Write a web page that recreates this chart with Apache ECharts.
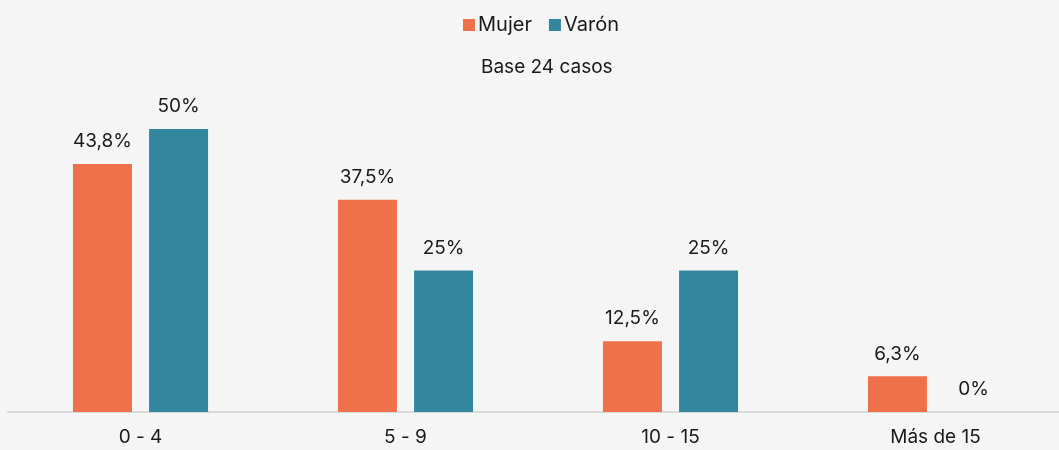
<!DOCTYPE html>
<html>
<head>
<meta charset="utf-8">
<script src="https://cdn.jsdelivr.net/npm/echarts@6/dist/echarts.min.js"></script>
<style>
  html, body { margin: 0; padding: 0; background: #f5f5f5; overflow: hidden; }
  #chart { width: 1076px; height: 450px; }
</style>
</head>
<body>
<div id="chart"></div>
<script>
var categories = ['0 - 4', '5 - 9', '10 - 15', 'Más de 15'];
var mujerValues = [43.8, 37.5, 12.5, 6.3];
var varonValues = [50, 25, 25, 0];

var myChart = echarts.init(document.getElementById('chart'));
var fontFam = 'Inter, "Open Sans", sans-serif';

function pctLabel(p) {
  return String(p.value).replace('.', ',') + '%';
}

var option = {
  backgroundColor: '#f5f5f5',
  textStyle: { fontFamily: fontFam },
  title: {
    text: 'Base 24 casos',
    left: 476,
    top: 53,
    textStyle: { fontSize: 19, fontWeight: 'normal', color: '#1a1a1a', fontFamily: fontFam }
  },
  legend: {
    top: 10,
    left: 458,
    icon: 'rect',
    itemWidth: 12,
    itemHeight: 12,
    itemGap: 17,
    textStyle: { fontSize: 20, color: '#1a1a1a', fontFamily: fontFam, padding: [0, 0, 0, -2] },
    data: ['Mujer', 'Varón']
  },
  grid: {
    left: 8,
    right: 8,
    top: 129,
    bottom: 38,
    containLabel: false
  },
  xAxis: {
    type: 'category',
    data: categories,
    axisLine: { lineStyle: { color: '#d9d9d9', width: 2 } },
    axisTick: { show: false },
    axisLabel: { fontSize: 19, color: '#1a1a1a', margin: 16, fontFamily: fontFam }
  },
  yAxis: {
    type: 'value',
    min: 0,
    max: 50,
    show: false,
    splitLine: { show: false }
  },
  series: [
    {
      name: 'Mujer',
      type: 'bar',
      data: mujerValues,
      barWidth: 59,
      barGap: '29%',
      itemStyle: { color: '#ef714a' },
      label: {
        show: true,
        position: 'top',
        distance: 13,
        fontSize: 19,
        color: '#1a1a1a',
        fontFamily: fontFam,
        formatter: pctLabel
      }
    },
    {
      name: 'Varón',
      type: 'bar',
      data: varonValues,
      barWidth: 59,
      itemStyle: { color: '#32879e' },
      label: {
        show: true,
        position: 'top',
        distance: 13,
        fontSize: 19,
        color: '#1a1a1a',
        fontFamily: fontFam,
        formatter: pctLabel
      }
    }
  ]
};

option && myChart.setOption(option);
</script>
</body>
</html>
